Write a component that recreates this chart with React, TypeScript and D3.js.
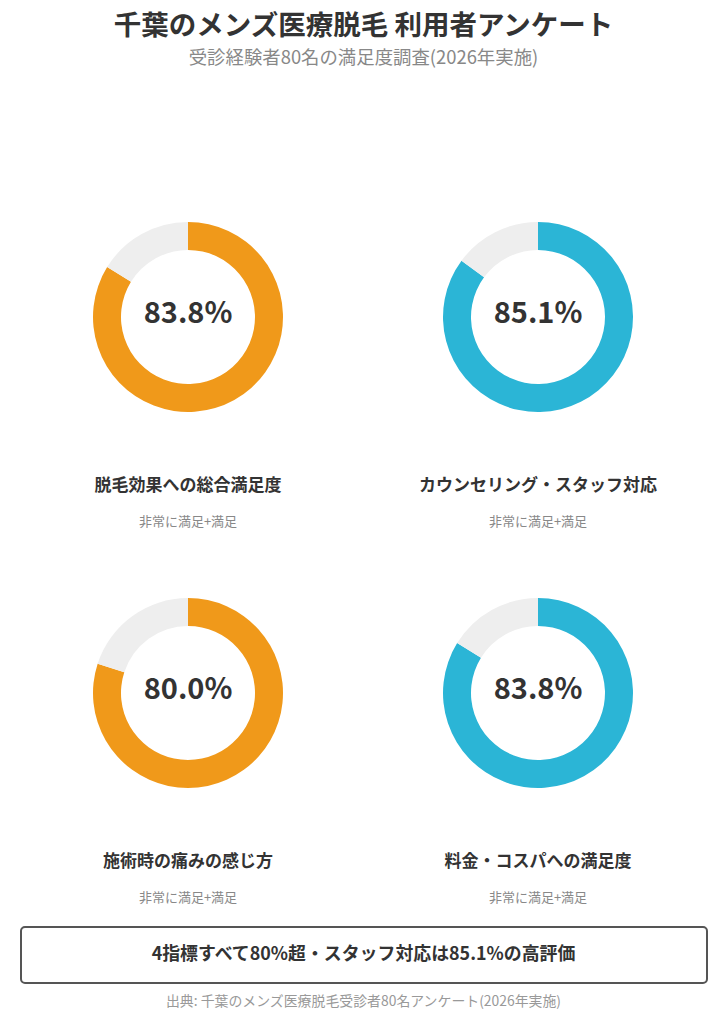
import { useEffect, useRef } from "react"
import * as d3 from "d3"

const titleText = "千葉のメンズ医療脱毛 利用者アンケート"
const subtitleText = "受診経験者80名の満足度調査(2026年実施)"
const metricLabels = ["脱毛効果への総合満足度", "カウンセリング・スタッフ対応", "施術時の痛みの感じ方", "料金・コスパへの満足度"]
const metricValues = [83.8, 85.1, 80.0, 83.8]
const metricColors = ["#F0991A", "#2BB5D6", "#F0991A", "#2BB5D6"]
const subLabel = "非常に満足+満足"
const summaryText = "4指標すべて80%超・スタッフ対応は85.1%の高評価"
const sourceText = "出典: 千葉のメンズ医療脱毛受診者80名アンケート(2026年実施)"

const FONT = "'Noto Sans CJK JP', 'Noto Sans', sans-serif"

export default function App() {
  const svgRef = useRef<SVGSVGElement>(null)

  useEffect(() => {
    if (!svgRef.current) return
    const width = 727
    const height = 1024

    const svg = d3.select(svgRef.current)
    svg.selectAll("*").remove()
    svg.attr("width", width).attr("height", height).style("font-family", FONT)

    svg.append("rect").attr("width", width).attr("height", height).attr("fill", "#fff")

    // Title
    svg.append("text")
      .attr("x", width / 2).attr("y", 35)
      .attr("text-anchor", "middle")
      .attr("font-size", 27.5).attr("font-weight", "bold").attr("fill", "#333")
      .text(titleText)

    svg.append("text")
      .attr("x", width / 2).attr("y", 64)
      .attr("text-anchor", "middle")
      .attr("font-size", 18.4).attr("fill", "#888")
      .text(subtitleText)

    // Grid positions
    const col = d3.scaleOrdinal<number, number>().domain([0, 1]).range([188, 538])
    const row = d3.scaleOrdinal<number, number>().domain([0, 1]).range([317, 693])

    const outerR = 95
    const innerR = 67
    const arc = d3.arc<d3.PieArcDatum<number>>().innerRadius(innerR).outerRadius(outerR)
    const pie = d3.pie<number>().sort(null)

    metricValues.forEach((v, i) => {
      const cx = col(i % 2)
      const cy = row(Math.floor(i / 2))
      const g = svg.append("g").attr("transform", `translate(${cx},${cy})`)

      g.selectAll("path")
        .data(pie([v, 100 - v]))
        .enter()
        .append("path")
        .attr("d", arc)
        .attr("fill", (_, j) => (j === 0 ? metricColors[i] : "#EEEEEE"))

      g.append("text")
        .attr("y", -4)
        .attr("text-anchor", "middle")
        .attr("dy", "0.35em")
        .attr("font-size", 29).attr("font-weight", "bold").attr("fill", "#333")
        .text(`${v.toFixed(1)}%`)

      g.append("text")
        .attr("x", 0).attr("y", 174)
        .attr("text-anchor", "middle")
        .attr("font-size", 17).attr("font-weight", "bold").attr("fill", "#333")
        .text(metricLabels[i])

      g.append("text")
        .attr("x", 0).attr("y", 209)
        .attr("text-anchor", "middle")
        .attr("font-size", 13).attr("fill", "#888")
        .text(subLabel)
    })

    // Summary box
    svg.append("rect")
      .attr("x", 21).attr("y", 927)
      .attr("width", 686).attr("height", 56)
      .attr("rx", 4)
      .attr("fill", "#fff").attr("stroke", "#555").attr("stroke-width", 2)

    svg.append("text")
      .attr("x", width / 2).attr("y", 960)
      .attr("text-anchor", "middle")
      .attr("font-size", 17.9).attr("font-weight", "bold").attr("fill", "#333")
      .text(summaryText)

    svg.append("text")
      .attr("x", width / 2).attr("y", 1006)
      .attr("text-anchor", "middle")
      .attr("font-size", 13.9).attr("fill", "#999")
      .text(sourceText)
  }, [])

  return (
    <div style={{ margin: -8 }}>
      <svg ref={svgRef} style={{ display: "block" }} />
    </div>
  )
}
